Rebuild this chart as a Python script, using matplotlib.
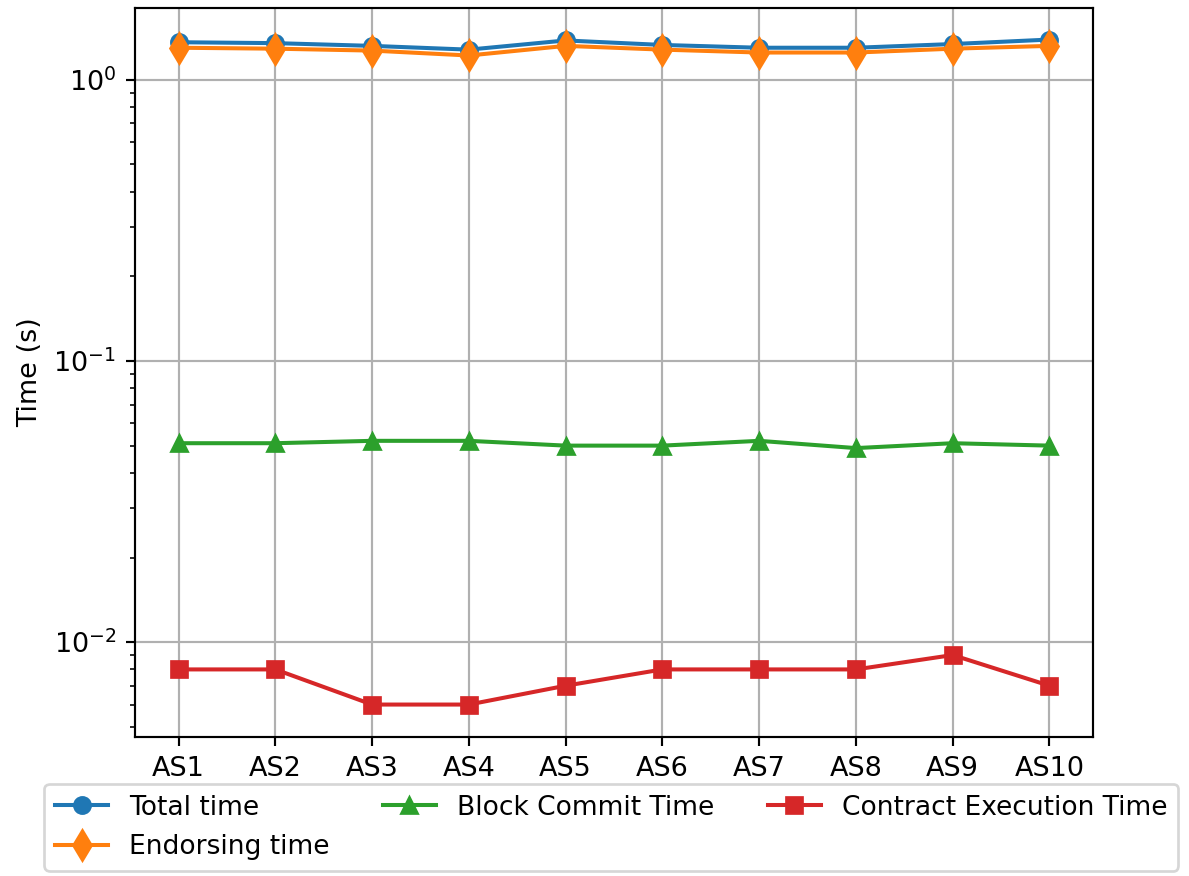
import matplotlib
matplotlib.use('Agg')
import matplotlib.pyplot as plt

servers = ['AS1', 'AS2', 'AS3', 'AS4', 'AS5', 'AS6', 'AS7', 'AS8', 'AS9', 'AS10']
total_time = [1.36, 1.35, 1.32, 1.28, 1.38, 1.33, 1.30, 1.30, 1.34, 1.39]
endorsing_time = [1.30, 1.29, 1.27, 1.22, 1.32, 1.28, 1.25, 1.25, 1.29, 1.32]
commit_time = [0.051, 0.051, 0.052, 0.052, 0.050, 0.050, 0.052, 0.049, 0.051, 0.050]
contract_time = [0.008, 0.008, 0.006, 0.006, 0.007, 0.008, 0.008, 0.008, 0.009, 0.007]

dpi = 194
fig = plt.figure(figsize=(1189 / dpi, 876 / dpi), dpi=dpi)
ax = fig.add_axes([135 / 1189, 1 - 737 / 876, (1093 - 135) / 1189, (737 - 8) / 876])

ax.plot(servers, total_time, marker='o', label='Total time')
ax.plot(servers, endorsing_time, marker='d', markersize=8, label='Endorsing time')
ax.plot(servers, commit_time, marker='^', label='Block Commit Time')
ax.plot(servers, contract_time, marker='s', label='Contract Execution Time')

ax.set_yscale('log')
ax.set_ylim(0.0046, 1.8)
ax.set_ylabel('Time (s)')
ax.grid(True)

fig.legend(loc='upper center', bbox_to_anchor=(0.514, 1 - 784 / 876), ncol=3,
           borderaxespad=0, fontsize=9.85, labelspacing=0.5)

fig.savefig('out.png', dpi=dpi)
